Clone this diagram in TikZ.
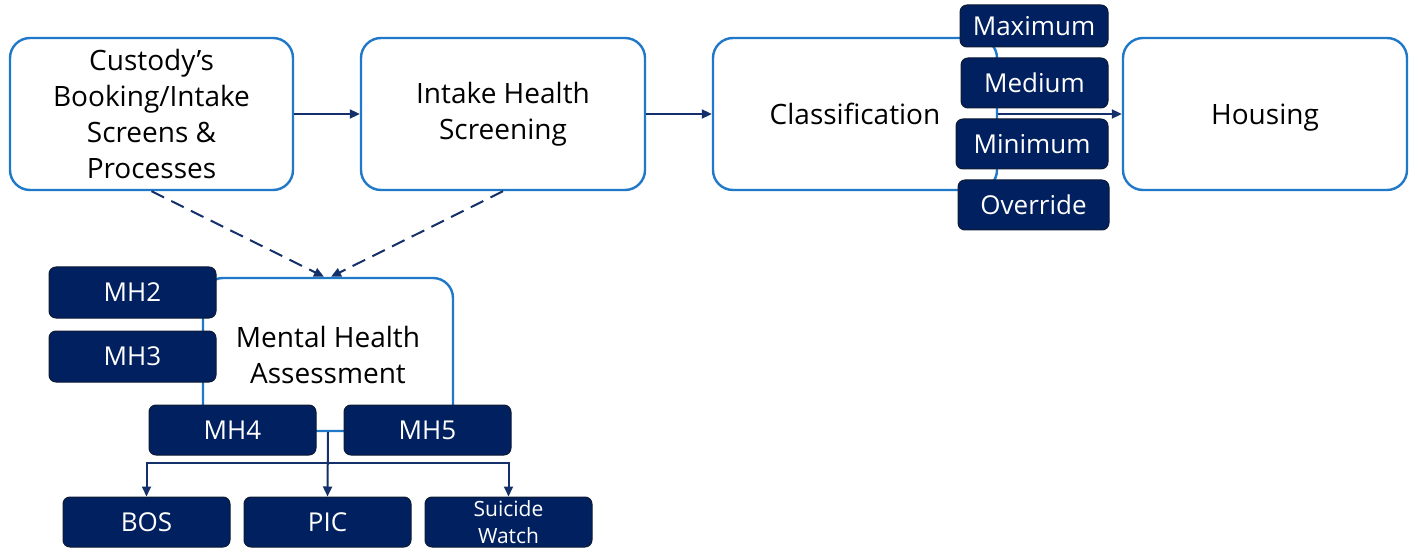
\documentclass[tikz,border=0pt]{standalone}
\usepackage{fontspec}
\setmainfont{Open Sans}
\usetikzlibrary{arrows.meta,calc}
\definecolor{lblue}{HTML}{1F78C8}
\definecolor{navy}{HTML}{002060}
\definecolor{dkline}{HTML}{0E1A33}
\definecolor{arrc}{HTML}{14306A}
\begin{document}
\begin{tikzpicture}[x=1pt,y=-1pt,
  lbox/.style={draw=lblue, line width=2.4pt, rounded corners=20pt, fill=white, align=center, text=black, inner sep=0pt, font=\fontsize{28}{36}\selectfont},
  oneline/.style={text height=24pt, text depth=3pt},
  dbox/.style={draw=dkline, line width=1pt, fill=navy, rounded corners=7pt, text=white, align=center, inner sep=0pt, font=\fontsize{26}{30}\selectfont},
  arr/.style={draw=arrc, line width=2pt, -{Triangle[length=10pt,width=9pt]}},
  darr/.style={arr, dash pattern=on 14pt off 8pt}]
\useasboundingbox (0,0) rectangle (1414,548);
% main boxes
\node[lbox, minimum width=283pt, minimum height=152pt] (cust) at (151.5,114) {Custody’s\\Booking/Intake\\Screens \&\\Processes};
\node[lbox, minimum width=284pt, minimum height=152pt] (ihs) at (503,114) {Intake Health\\Screening};
\node[lbox, oneline, minimum width=284pt, minimum height=152pt] (cls) at (855,114) {Classification};
\node[lbox, oneline, minimum width=284pt, minimum height=152pt] (hous) at (1265,114) {Housing};
\node[lbox, minimum width=250pt, minimum height=153pt] (mha) at (328,354.5) {Mental Health\\Assessment};
% arrows
\draw[arr] (cust.east) -- (ihs.west);
\draw[arr] (ihs.east) -- (cls.west);
\draw[arr] (cls.east) -- (hous.west);
% classification levels
\node[dbox, minimum width=148pt, minimum height=42pt] (max) at (1034,26) {Maximum};
\node[dbox, minimum width=147pt, minimum height=50pt] (med) at (1034.5,83) {Medium};
\node[dbox, minimum width=152pt, minimum height=50pt] (min) at (1032,144) {Minimum};
\node[dbox, minimum width=151pt, minimum height=50pt] (ovr) at (1033.5,205) {Override};
% dashed arrows
\draw[darr] (cust.south) -- ($(mha.north)+(-4,0)$);
\draw[darr] (ihs.south) -- ($(mha.north)+(3,0)$);
% MH levels
\node[dbox, minimum width=167pt, minimum height=51pt] (mh2) at (132.5,292.5) {MH2};
\node[dbox, minimum width=167pt, minimum height=51pt] (mh3) at (132.5,356.5) {MH3};
\node[dbox, minimum width=167pt, minimum height=50pt] (mh4) at (232.5,430) {MH4};
\node[dbox, minimum width=167pt, minimum height=50pt] (mh5) at (427.5,430) {MH5};
% outcomes
\node[dbox, minimum width=167pt, minimum height=50pt] (bos) at (146.5,522) {BOS};
\node[dbox, minimum width=167pt, minimum height=50pt] (pic) at (327.5,522) {PIC};
\node[dbox, minimum width=167pt, minimum height=50pt, font=\fontsize{21}{27}\selectfont] (sw) at (508.5,522) {Suicide\\Watch};
\coordinate (j) at (328,463);
\draw[arr] (mha.south) -- (pic.north);
\draw[arr] (j) -| (bos.north);
\draw[arr] (j) -| (sw.north);
\end{tikzpicture}
\end{document}
